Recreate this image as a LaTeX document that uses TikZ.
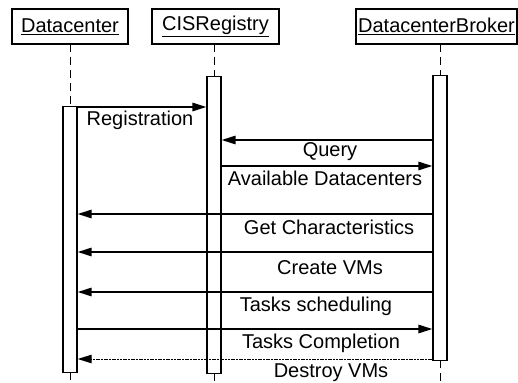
\documentclass[tikz,border=0pt]{standalone}
\usepackage{fontspec}
\setmainfont{Liberation Sans}
\usetikzlibrary{arrows.meta}
\begin{document}
\begin{tikzpicture}[x=1pt,y=-1pt,
  hdr/.style={draw,line width=2pt,inner sep=0pt,minimum height=35pt,anchor=north west,font=\fontsize{20}{21}\selectfont},
  bar/.style={draw,line width=1.4pt,fill=white,inner sep=0pt,minimum width=14pt,anchor=north},
  life/.style={line width=1pt,dash pattern=on 8pt off 5pt},
  msg/.style={line width=1.5pt,-{Triangle[length=14pt,width=8.5pt]}},
  ret/.style={line width=1pt,dash pattern=on 2pt off 0.7pt,-{Triangle[length=14pt,width=8.5pt]}},
  lbl/.style={anchor=base,inner sep=0pt,font=\fontsize{20}{21}\selectfont}]
\useasboundingbox (0,0) rectangle (518,382);
% headers
\node[hdr,minimum width=116pt] (dc) at (11,8) {\underline{Datacenter}};
\node[hdr,minimum width=127pt] (cis) at (151,8) {\underline{CISRegistry}};
\node[hdr,minimum width=161pt] (br) at (355,8) {\underline{DatacenterBroker}};
% lifelines
\coordinate (dcend) at (70,382);
\coordinate (cisend) at (214,382);
\coordinate (brend) at (440,382);
\draw[life] (70,44) -- (70,106);
\draw[life] (214,44) -- (214,76);
\draw[life] (440,44) -- (440,75);
\draw[life] (70,372) -- (dcend);
\draw[life] (214,373) -- (cisend);
\draw[life] (440,360) -- (brend);
% activation bars
\node[bar,minimum height=266pt] (dcbar) at (70,106) {};
\node[bar,minimum height=297pt] (cisbar) at (214,76) {};
\node[bar,minimum height=285pt] (brbar) at (440,75) {};
% messages
\draw[msg] (dcbar.east |- 0,107) -- (cisbar.west |- 0,107);
\node[lbl] (l1) at (140,126) {Registration};
\draw[msg] (brbar.west |- 0,140) -- (cisbar.east |- 0,140);
\node[lbl] (l2) at (330,157) {Query};
\draw[msg] (cisbar.east |- 0,166) -- (brbar.west |- 0,166);
\node[lbl] (l3) at (325,185) {Available Datacenters};
\draw[msg] (brbar.west |- 0,214) -- (dcbar.east |- 0,214);
\node[lbl] (l4) at (329,234) {Get Characteristics};
\draw[msg] (brbar.west |- 0,252) -- (dcbar.east |- 0,252);
\node[lbl] (l5) at (330,274) {Create VMs};
\draw[msg] (brbar.west |- 0,292) -- (dcbar.east |- 0,292);
\node[lbl] (l6) at (316,311) {Tasks scheduling};
\draw[msg] (dcbar.east |- 0,329) -- (brbar.west |- 0,329);
\node[lbl] (l7) at (321,348) {Tasks Completion};
\draw[ret] (brbar.west |- 0,359) -- (dcbar.east |- 0,359);
\node[lbl] (l8) at (331,377) {Destroy VMs};
\end{tikzpicture}
\end{document}
